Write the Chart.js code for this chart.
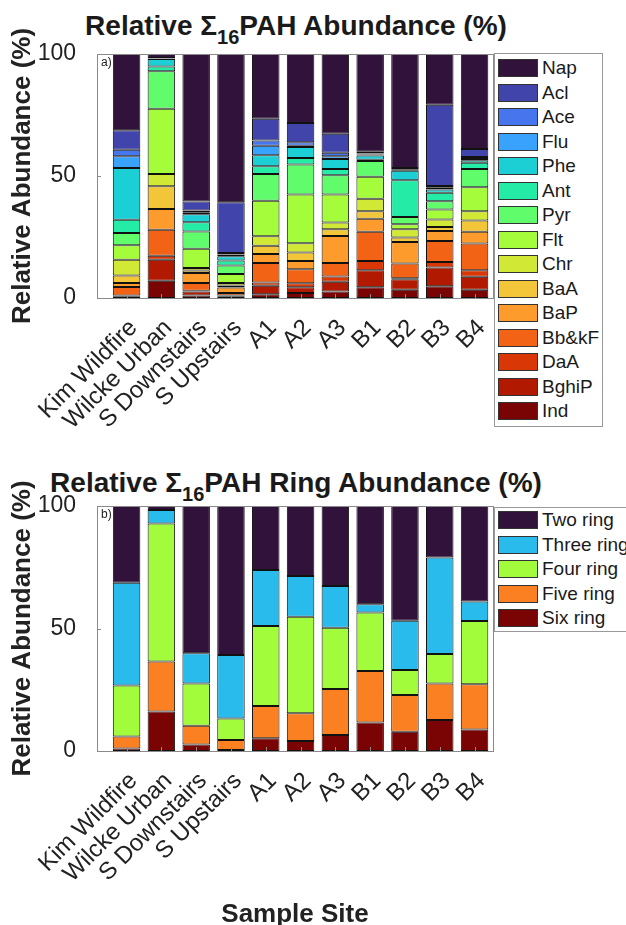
<!DOCTYPE html>
<html>
<head>
<meta charset="utf-8">
<script src="https://cdn.jsdelivr.net/npm/chart.js@4.4.1/dist/chart.umd.min.js"></script>
<style>
  body { margin: 0; background: #fff; font-family: "Liberation Sans", Arial, sans-serif; }
  #wrap { position: relative; width: 626px; height: 925px; overflow: hidden; }
  canvas { position: absolute; left: 0; }
  .ttl { position: absolute; left: 0; width: 592px; text-align: center; font-weight: bold;
         font-size: 28px; line-height: 30px; color: #1a1a1a; white-space: nowrap; }
  .ttl sub { font-size: 20px; line-height: 0; vertical-align: -9px; }
  .leg { position: absolute; left: 494px; border: 1px solid #999; background: #fff;
         padding: 0 3px 0 3px; white-space: nowrap; }
  .leg .row { height: 24.5px; display: flex; align-items: center; font-size: 19px; color: #1a1a1a; }
  .leg .sw { width: 40px; height: 18px; border: 1px solid #333; box-sizing: border-box; margin-right: 4px; }
</style>
</head>
<body>
<div id="wrap">
  <div class="ttl" style="top:11px">Relative &Sigma;<sub>16</sub>PAH Abundance (%)</div>
  <canvas id="pahChart" width="626" height="460" style="top:0"></canvas>
  <div class="leg" id="pahLegend" style="top:53px;padding-top:2px;padding-bottom:2px"></div>

  <div class="ttl" style="top:468px">Relative &Sigma;<sub>16</sub>PAH Ring Abundance (%)</div>
  <canvas id="ringChart" width="626" height="465" style="top:460px"></canvas>
  <div class="leg" id="ringLegend" style="top:507px"></div>
</div>
<script>
const sites = ['Kim Wildfire', 'Wilcke Urban', 'S Downstairs', 'S Upstairs', 'A1', 'A2', 'A3', 'B1', 'B2', 'B3', 'B4'];

// compound shares (%), one value per site, legend order
const nap   = [31.3, 1.6, 60.4, 60.8, 26.5, 28.3, 32.7, 40.1, 46.7, 20.8, 38.9];
const acl   = [7.9, 0.2, 3.7, 20.8, 9.0, 7.9, 7.8, 0.7, 0.4, 33.3, 3.3];
const ace   = [2.7, 0.1, 0.8, 0.6, 2.1, 1.4, 1.4, 0.4, 0.3, 0.7, 0.8];
const flu   = [4.8, 0.2, 0.8, 0.7, 3.9, 0.5, 1.1, 0.4, 0.4, 0.7, 0.5];
const phe   = [21.2, 3.0, 3.3, 1.7, 4.5, 4.5, 4.1, 1.7, 3.9, 1.4, 1.1];
const ant   = [5.5, 2.0, 3.7, 2.1, 3.2, 2.7, 2.6, 0.6, 15.1, 3.4, 2.5];
const pyr   = [5.0, 15.3, 7.1, 3.5, 10.9, 12.3, 7.9, 6.4, 3.0, 3.4, 7.5];
const flt   = [5.9, 26.8, 7.9, 3.7, 14.6, 20.0, 11.5, 9.0, 2.0, 4.1, 9.8];
const chr   = [6.5, 5.0, 1.0, 1.0, 3.9, 3.8, 2.7, 5.1, 3.4, 3.1, 3.8];
const baa   = [3.1, 9.3, 1.1, 0.8, 3.4, 3.4, 2.8, 3.1, 1.8, 1.6, 4.6];
const bap   = [1.6, 8.5, 4.1, 2.3, 3.7, 3.4, 11.1, 5.3, 8.9, 4.1, 4.9];
const bbkf  = [3.5, 10.7, 3.1, 1.0, 7.9, 5.8, 5.5, 12.0, 6.0, 8.6, 10.9];
const daa   = [0.2, 1.6, 0.3, 0.3, 1.4, 1.6, 2.1, 3.8, 0.4, 2.3, 2.7];
const bghip = [0.3, 8.6, 1.7, 0.3, 3.5, 2.4, 4.0, 7.0, 4.3, 7.7, 5.3];
const ind   = [0.5, 7.1, 1.0, 0.4, 1.5, 2.0, 2.7, 4.4, 3.4, 4.8, 3.4];

// ring groups (%)
const twoRing   = [31.3, 1.6, 60.1, 60.8, 26.1, 28.6, 32.7, 40.1, 46.8, 21.0, 39.0];
const threeRing = [42.0, 5.5, 12.3, 25.9, 22.9, 16.6, 17.0, 3.4, 20.1, 39.4, 7.9];
const fourRing  = [20.8, 56.4, 17.3, 8.8, 32.6, 39.4, 25.0, 23.8, 10.2, 12.0, 25.9];
const fiveRing  = [4.9, 20.4, 7.6, 4.1, 13.2, 11.3, 18.8, 21.1, 15.0, 14.9, 18.4];
const sixRing   = [1.0, 16.1, 2.7, 0.4, 5.2, 4.1, 6.5, 11.6, 7.9, 12.7, 8.8];

const pahNames  = ['Nap', 'Acl', 'Ace', 'Flu', 'Phe', 'Ant', 'Pyr', 'Flt', 'Chr', 'BaA', 'BaP', 'Bb&kF', 'DaA', 'BghiP', 'Ind'];
const pahValues = [nap, acl, ace, flu, phe, ant, pyr, flt, chr, baa, bap, bbkf, daa, bghip, ind];
const pahColors = ['#30123b', '#4145ab', '#4675ed', '#39a2fc', '#1bcfd4', '#24eca6', '#61fc6c', '#a4fc3b',
                   '#d1e834', '#f3c63a', '#fe9b2d', '#f36315', '#d93806', '#b11901', '#7a0403'];

const ringNames  = ['Two ring', 'Three ring', 'Four ring', 'Five ring', 'Six ring'];
const ringValues = [twoRing, threeRing, fourRing, fiveRing, sixRing];
const ringColors = ['#30123b', '#28bbec', '#a2fc3c', '#fb8022', '#7a0403'];

Chart.defaults.font.family = '"Liberation Sans", Arial, sans-serif';
Chart.defaults.color = '#222';

// bottom of the stack is the last legend entry
function buildSets(names, values, colors) {
    return names.map((n, i) => ({
        label: n,
        data: values[i],
        backgroundColor: colors[i]
    })).reverse();
}

function buildLegend(id, names, colors) {
    const box = document.getElementById(id);
    names.forEach((n, i) => {
        const row = document.createElement('div');
        row.className = 'row';
        const sw = document.createElement('span');
        sw.className = 'sw';
        sw.style.background = colors[i];
        row.appendChild(sw);
        row.appendChild(document.createTextNode(n));
        box.appendChild(row);
    });
}

// axes box, inward ticks and panel letter
const frame = {
    id: 'frame',
    afterDraw(chart, args, opts) {
        const { ctx, chartArea: a, scales } = chart;
        ctx.save();
        ctx.strokeStyle = '#8a8a8a';
        ctx.lineWidth = 1;
        ctx.strokeRect(a.left + 0.5, a.top + 0.5, a.right - a.left, a.bottom - a.top);
        ctx.beginPath();
        [0, 50, 100].forEach(v => {
            const y = Math.round(scales.y.getPixelForValue(v)) + 0.5;
            ctx.moveTo(a.left, y); ctx.lineTo(a.left + 4, y);
        });
        sites.forEach((s, i) => {
            const x = Math.round(scales.x.getPixelForValue(i + 1)) + 0.5;
            ctx.moveTo(x, a.bottom); ctx.lineTo(x, a.bottom - 4);
        });
        ctx.stroke();
        ctx.fillStyle = '#222';
        ctx.font = '12px "Liberation Sans", Arial, sans-serif';
        ctx.textBaseline = 'top';
        ctx.fillText(opts.tag, a.left + 4, a.top + 3);
        ctx.restore();
    }
};

function makeChart(id, datasets, padTop, axisHeight, tag, xTitle) {
    return new Chart(document.getElementById(id), {
        type: 'bar',
        data: { labels: sites.map((s, i) => i + 1), datasets: datasets },
        options: {
            responsive: false,
            animation: false,
            layout: { padding: { top: padTop, right: 133, left: 0, bottom: 0 } },
            plugins: {
                legend: { display: false },
                tooltip: { enabled: false },
                frame: { tag: tag }
            },
            datasets: {
                bar: {
                    categoryPercentage: 1,
                    barPercentage: 0.79,
                    borderWidth: 1,
                    borderColor: '#111',
                    borderSkipped: false
                }
            },
            scales: {
                x: {
                    type: 'linear',
                    stacked: true,
                    min: 0.15,
                    max: 11.53,
                    offset: false,
                    grid: { display: false },
                    border: { display: false },
                    ticks: {
                        stepSize: 1,
                        includeBounds: false,
                        autoSkip: false,
                        minRotation: 45,
                        maxRotation: 45,
                        padding: 8,
                        labelOffset: 7,
                        font: { size: 24 },
                        callback: v => Number.isInteger(v) ? sites[v - 1] : ''
                    },
                    title: {
                        display: !!xTitle,
                        text: xTitle || '',
                        font: { size: 26, weight: 'bold', lineHeight: 0.8 },
                        padding: 0
                    },
                    afterFit: s => { s.height = axisHeight; }
                },
                y: {
                    stacked: true,
                    min: 0,
                    max: 100,
                    grid: { display: false },
                    border: { display: false },
                    ticks: { stepSize: 50, padding: 13, font: { size: 23 } },
                    title: {
                        display: true,
                        text: 'Relative Abundance (%)',
                        font: { size: 26, weight: 'bold', lineHeight: 1 },
                        padding: { top: 10, bottom: 0 }
                    },
                    afterFit: s => { s.width = 97; }
                }
            }
        },
        plugins: [frame]
    });
}

makeChart('pahChart', buildSets(pahNames, pahValues, pahColors), 54, 162, 'a)', null);
makeChart('ringChart', buildSets(ringNames, ringValues, ringColors), 46, 174, 'b)', 'Sample Site');

buildLegend('pahLegend', pahNames, pahColors);
buildLegend('ringLegend', ringNames, ringColors);
</script>
</body>
</html>
